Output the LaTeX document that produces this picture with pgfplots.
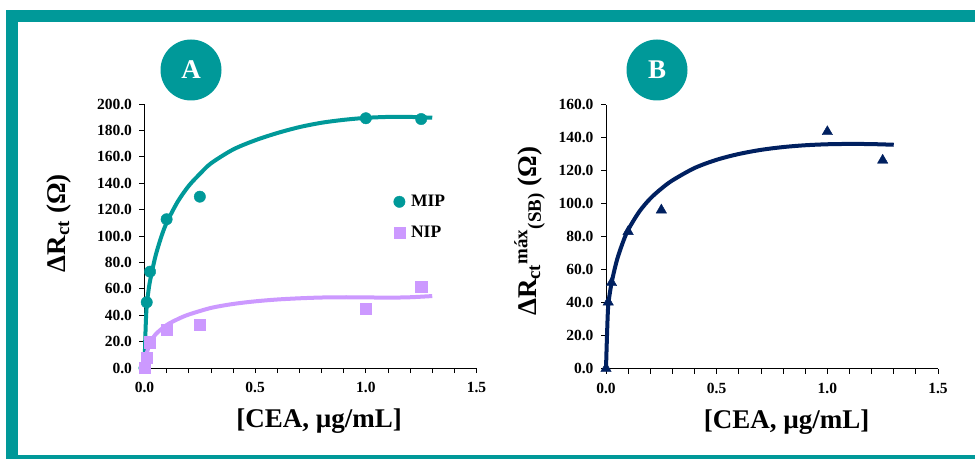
\documentclass[border=0pt]{standalone}
\usepackage{fontspec}
\setmainfont{Liberation Serif}
\usepackage{pgfplots}
\pgfplotsset{compat=1.18}
\definecolor{tealc}{RGB}{0,153,153}
\definecolor{lav}{RGB}{204,153,255}
\definecolor{navy}{RGB}{0,32,96}
\pgfplotsset{
 panel/.style={
  scale only axis, width=332pt, height=264pt,
  anchor=south west,
  axis x line*=bottom, axis y line*=left,
  xmin=0, xmax=1.5, ymin=0,
  xtick={0,0.5,1,1.5}, minor x tick num=4,
  xtick pos=bottom, ytick pos=left,
  tick align=outside, major tick length=5pt, minor tick length=5pt,
  every tick/.style={black, line width=0.8pt},
  axis line style={black, line width=0.8pt},
  clip=false, scaled ticks=false,
  /pgf/number format/assume math mode=true,
  /pgf/number format/fixed,
  /pgf/number format/fixed zerofill,
  /pgf/number format/precision=1,
  ticklabel style={font=\fontsize{15.5}{15.5}\selectfont\bfseries},
  yticklabel style={xshift=-4pt},
  xticklabel style={yshift=-6pt},
  label style={font=\fontsize{27}{27}\selectfont\bfseries},
 }
}
\begin{document}
\begin{tikzpicture}
\useasboundingbox (0,0) rectangle (975pt,459pt);
\fill[white] (0,0) rectangle (975pt,459pt);
\fill[tealc] (6pt,437pt) rectangle (975pt,449pt);
\fill[tealc] (6pt,0pt) rectangle (18pt,449pt);
\fill[tealc] (6pt,0pt) rectangle (975pt,4pt);
\fill[tealc] (191pt,389pt) circle (30.5pt);
\node[white, font=\fontsize{27}{27}\selectfont\bfseries] at (191pt,389pt) {A};
\fill[tealc] (657pt,389pt) circle (30.5pt);
\node[white, font=\fontsize{27}{27}\selectfont\bfseries] at (657pt,389pt) {B};

\begin{axis}[panel, at={(144.5pt,91pt)}, ymax=200, ytick={0,20,...,200},
  xlabel={[CEA, µg/mL]},
  xlabel style={at={(axis description cs:0.526,0)}, anchor=center, yshift=-53.5pt},
  ylabel={ΔR\textsubscript{ct} (Ω)},
  ylabel style={at={(axis description cs:-0.2575,0.549)}, anchor=center},
  legend style={draw=none, fill=none, at={(axis cs:1.125,132.5)}, anchor=north west,
    font=\fontsize{17.5}{17.5}\selectfont\bfseries, row sep=14pt, column sep=4pt, inner sep=0pt},
  legend cell align=left]
\addplot[only marks, mark=*, mark size=5.7pt, mark options={fill=tealc, draw=tealc}] coordinates {
 (0,0) (0.01,49.8) (0.025,73) (0.1,112.7) (0.25,129.8) (1.0,189.2) (1.25,188.6)};
\addlegendentry{MIP}
\addplot[only marks, mark=square*, mark size=5.6pt, mark options={fill=lav, draw=lav}] coordinates {
 (0,0) (0.01,7.6) (0.025,19.5) (0.1,28.8) (0.25,33.1) (1.0,45.2) (1.25,61.6)};
\addlegendentry{NIP}
\addplot[forget plot, tealc, line width=4pt, smooth, tension=0.5] coordinates {
 (0,0) (0.005,30) (0.01,47) (0.02,61) (0.03,70) (0.05,85) (0.075,99) (0.1,110) (0.15,126)
 (0.2,138) (0.25,147) (0.3,155) (0.4,165.5) (0.5,172.5) (0.6,178) (0.7,182.5) (0.8,185.8)
 (0.9,188) (1.0,189.5) (1.1,190.2) (1.2,190.2) (1.3,189.6)};
\addplot[forget plot, lav, line width=4pt, smooth, tension=0.5] coordinates {
 (0,0) (0.005,6) (0.01,11) (0.025,19) (0.05,25.5) (0.1,32.5) (0.15,37) (0.2,40.5) (0.3,45.5)
 (0.4,48.5) (0.5,50.5) (0.6,51.9) (0.7,52.8) (0.8,53.4) (0.9,53.6) (1.0,53.5) (1.1,53.3)
 (1.2,53.6) (1.3,54.5)};
\end{axis}

\begin{axis}[panel, at={(606pt,90.5pt)}, ymax=160, ytick={0,20,...,160},
  xlabel={[CEA, µg/mL]},
  xlabel style={at={(axis description cs:0.544,0)}, anchor=center, yshift=-53.5pt},
  ylabel={ΔR\textsubscript{ct}\textsuperscript{máx}\textsubscript{(SB)} (Ω)},
  ylabel style={at={(axis description cs:-0.23,0.52)}, anchor=center}]
\addplot[only marks, mark=triangle*, mark size=6pt, mark options={fill=navy, draw=navy}] coordinates {
 (0,0) (0.01,40.2) (0.025,52) (0.1,83) (0.25,96) (1.0,143.5) (1.25,126.2)};
\addplot[navy, line width=4pt, smooth, tension=0.5] coordinates {
 (0,0) (0.005,22) (0.01,38) (0.02,48) (0.03,55) (0.05,66) (0.075,76) (0.1,84) (0.15,95)
 (0.2,103) (0.25,109) (0.3,114) (0.4,121.5) (0.5,126.5) (0.6,130) (0.7,132.5) (0.8,134.2)
 (0.9,135.3) (1.0,135.9) (1.1,136.1) (1.2,136) (1.3,135.6)};
\end{axis}
\end{tikzpicture}
\end{document}
